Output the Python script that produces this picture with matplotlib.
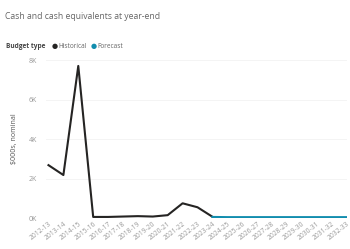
import numpy as np
import matplotlib.pyplot as plt

plt.rcParams['font.family'] = ['Open Sans', 'DejaVu Sans']

# financial years shown on the x axis
years = ['2012-13', '2013-14', '2014-15', '2015-16', '2016-17', '2017-18',
         '2018-19', '2019-20', '2020-21', '2021-22', '2022-23', '2023-24',
         '2024-25', '2025-26', '2026-27', '2027-28', '2028-29', '2029-30',
         '2030-31', '2031-32', '2032-33']

# historical values ($000s), 2012-13 to 2023-24
historical = [2680, 2180, 7700, 60, 60, 80, 100, 80, 150, 750, 550, 70]
# forecast values ($000s), 2023-24 to 2032-33
forecast = [60, 50, 50, 50, 50, 50, 50, 50, 50, 50]

hist_color = '#252423'
fc_color = '#118dae'
grey = '#999999'

fig = plt.figure(figsize=(3.5, 2.49), dpi=100)
ax = fig.add_axes([0.13, 0.124, 0.86, 0.635])

x = np.arange(len(years))
ax.plot(x[:len(historical)], historical, color=hist_color, lw=1.5)
ax.plot(x[len(years) - len(forecast):], forecast, color=fc_color, lw=1.5)

ax.set_xlim(-0.2, 20.0)
ax.set_ylim(0, 8000)
ax.set_yticks([0, 2000, 4000, 6000, 8000])
ax.set_yticklabels(['0K', '2K', '4K', '6K', '8K'], color=grey, fontsize=5)
ax.set_xticks(x)
ax.set_xticklabels(years, rotation=38, ha='right', rotation_mode='anchor',
                   color=grey, fontsize=4.9)
ax.tick_params(length=0, pad=2)
ax.tick_params(axis='y', pad=6)
ax.grid(axis='y', color='#f2f2f2', lw=0.6)
for s in ax.spines.values():
    s.set_visible(False)
ax.set_ylabel('$000s, nominal', fontsize=5, color='#555555', labelpad=8)

fig.text(0.014, 0.932, 'Cash and cash equivalents at year-end', fontsize=6.2,
         color='#666666', va='center')
fig.text(0.017, 0.815, 'Budget type', fontsize=4.7, fontweight='bold',
         color='#444444', va='center')
fig.text(0.147, 0.815, '\u25cf', fontsize=5, color=hist_color, va='center',
         family='DejaVu Sans')
fig.text(0.166, 0.815, 'Historical', fontsize=4.7, color='#666666', va='center')
fig.text(0.258, 0.815, '\u25cf', fontsize=5, color=fc_color, va='center',
         family='DejaVu Sans')
fig.text(0.277, 0.815, 'Forecast', fontsize=4.7, color='#666666', va='center')

fig.savefig('out.png', dpi=100)
